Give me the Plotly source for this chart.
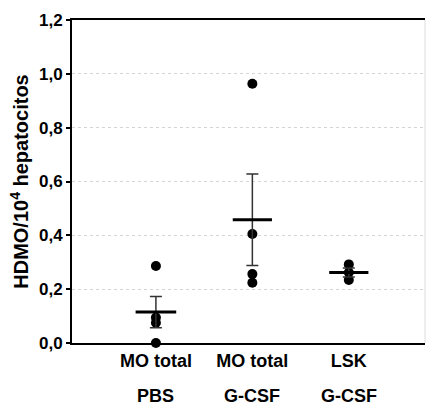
import plotly.graph_objects as go

# ---- data ----
group_pos = [0, 1, 2]
label_line1 = ["MO total", "MO total", "LSK"]
label_line2 = ["PBS", "G-CSF", "G-CSF"]

pbs_points = [0.286, 0.095, 0.075, 0.0]
mo_gcsf_points = [0.963, 0.405, 0.256, 0.224]
lsk_gcsf_points = [0.292, 0.262, 0.234]

means = [0.115, 0.458, 0.262]
sems = [0.058, 0.170, 0.017]

ytick_vals = [0.0, 0.2, 0.4, 0.6, 0.8, 1.0, 1.2]
ytick_text = ["0,0", "0,2", "0,4", "0,6", "0,8", "1,0", "1,2"]

FONT = "Liberation Sans, Arial, sans-serif"

fig = go.Figure()

groups = [pbs_points, mo_gcsf_points, lsk_gcsf_points]
for pos, pts in zip(group_pos, groups):
    fig.add_trace(go.Scatter(
        x=[pos] * len(pts), y=pts, mode="markers",
        marker=dict(color="black", size=10, symbol="circle"),
        cliponaxis=False, showlegend=False, hoverinfo="y"))

# mean +/- SEM
mean_widths = [29, 28, 28]
for pos, m, s, w in zip(group_pos, means, sems, mean_widths):
    fig.add_trace(go.Scatter(
        x=[pos], y=[m], mode="markers",
        marker=dict(symbol="line-ew", size=w,
                    line=dict(color="black", width=3)),
        error_y=dict(type="data", array=[s], visible=True,
                     color="#333333", thickness=1.5, width=6),
        showlegend=False, hoverinfo="y"))

fig.update_layout(
    width=426, height=405,
    margin=dict(l=72, r=1, t=20, b=62, autoexpand=False),
    paper_bgcolor="white", plot_bgcolor="white",
    font=dict(family=FONT, color="black"),
    xaxis=dict(
        range=[-0.87, 2.79],
        tickvals=group_pos,
        ticktext=[f"<b>{t}</b>" for t in label_line1],
        tickfont=dict(size=18, family=FONT, color="black"),
        showline=True, linecolor="black", linewidth=2, mirror=True,
        showgrid=False, zeroline=False, ticks="",
        automargin=False,
    ),
    yaxis=dict(
        range=[0, 1.2],
        tickvals=ytick_vals,
        ticktext=[f"<b>{t}</b>" for t in ytick_text],
        tickfont=dict(size=17, family=FONT, color="black"),
        showline=True, linecolor="black", linewidth=2,
        ticks="outside", ticklen=4, tickwidth=1.5, tickcolor="black",
        showgrid=True, gridcolor="#d4d4d4", griddash="dot", gridwidth=1,
        zeroline=False, automargin=False,
        title=dict(text="<b>HDMO/10<sup>4</sup> hepatocitos</b>",
                   font=dict(size=20, family=FONT, color="black"),
                   standoff=5),
    ),
)

for pos, t in zip(group_pos, label_line2):
    fig.add_annotation(x=pos, xref="x", y=-0.164, yref="paper",
                       text=f"<b>{t}</b>", showarrow=False,
                       yanchor="middle", xanchor="center",
                       font=dict(size=18, family=FONT, color="black"))

# faint right border
fig.add_shape(type="line", xref="paper", yref="paper",
              x0=1, x1=1, y0=0, y1=1,
              line=dict(color="#dddddd", width=1))

fig.write_html("out.html", config={"displayModeBar": False},
               post_script="document.body.style.margin='0';")
